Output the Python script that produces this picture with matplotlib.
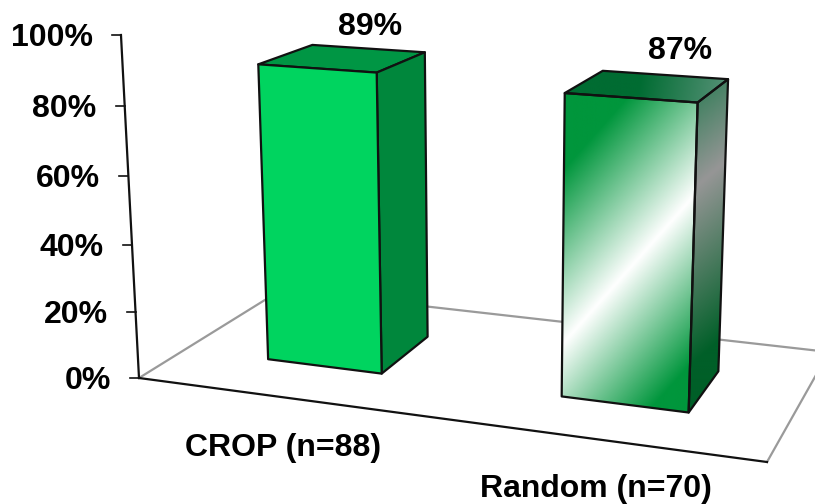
import numpy as np
import matplotlib
matplotlib.use('Agg')
import matplotlib.pyplot as plt
from matplotlib.colors import LinearSegmentedColormap
from matplotlib.patches import Polygon

plt.rcParams['font.family'] = ['Liberation Sans', 'DejaVu Sans']

# Datos
categories = ['CROP (n=88)', 'Random (n=70)']
values = [0.89, 0.87]
value_labels = ['89%', '87%']
y_ticks = [0, 0.2, 0.4, 0.6, 0.8, 1.0]
y_tick_labels = ['0%', '20%', '40%', '60%', '80%', '100%']

# Posicion de las barras en el piso (0-1)
bar_centers = [0.25, 0.75]
bar_width = 0.2
depth_front, depth_back = 0.30, 0.69

# ----------------------------
# Proyeccion 3D -> pixeles
# ----------------------------
FLOOR = [(139, 378), (767, 462), (829, 352), (281, 290)]
AXIS_TOP = (121, 35)
VANISH = (494, 7134)


def floor_matrix(p):
    (x0, y0), (x1, y1), (x2, y2), (x3, y3) = p
    sx, sy = x0 - x1 + x2 - x3, y0 - y1 + y2 - y3
    dx1, dx2, dy1, dy2 = x1 - x2, x3 - x2, y1 - y2, y3 - y2
    den = dx1 * dy2 - dx2 * dy1
    g = (sx * dy2 - dx2 * sy) / den
    h = (dx1 * sy - sx * dy1) / den
    return np.array([[x1 - x0 + g * x1, x3 - x0 + h * x3, x0],
                     [y1 - y0 + g * y1, y3 - y0 + h * y3, y0],
                     [g, h, 1.0]])


H = floor_matrix(FLOOR)
k = (AXIS_TOP[1] - FLOOR[0][1]) / (VANISH[1] - AXIS_TOP[1])


def project(u, d, v):
    p = H @ np.array([u, d, 1.0]) + v * k * np.array([VANISH[0], VANISH[1], 1.0])
    return p[0] / p[2], p[1] / p[2]


# ----------------------------
# Figura
# ----------------------------
fig = plt.figure(figsize=(8.15, 5.04), dpi=100)
ax = fig.add_axes([0, 0, 1, 1])

GREY = '#9a9a9a'
FS = 23

# Piso y eje
corners = [project(0, 0, 0), project(1, 0, 0), project(1, 1, 0), project(0, 1, 0)]
ax.plot(*zip(corners[1], corners[2], corners[3], corners[0]), color=GREY, lw=1.6, zorder=1)
ax.plot(*zip(corners[0], corners[1]), color='#111111', lw=1.6, zorder=1.5)
ax.plot(*zip(project(0, 0, 0), project(0, 0, 1)), color='#111111', lw=1.6, zorder=1.5)

for v, lab in zip(y_ticks, y_tick_labels):
    x, y = project(0, 0, v)
    ax.plot([x - 9, x], [y, y], color='#111111', lw=1.2, zorder=1.5)
    ax.text(x - 28, y + 3, lab, ha='right', va='center', fontsize=FS, fontweight='bold')


def solid_face(pts, color):
    ax.add_patch(Polygon(pts, closed=True, facecolor=color, edgecolor='#111111', lw=1.6,
                         joinstyle='round', zorder=3))


def gradient_face(pts, normal, stops):
    pts = np.array(pts)
    x0, y0 = pts.min(axis=0)
    x1, y1 = pts.max(axis=0)
    xx, yy = np.meshgrid(np.linspace(x0, x1, 300), np.linspace(y0, y1, 300))
    s = pts @ np.array(normal)
    t = (xx * normal[0] + yy * normal[1] - s.min()) / (s.max() - s.min())
    cmap = LinearSegmentedColormap.from_list('face', stops)
    im = ax.imshow(t, extent=(x0, x1, y1, y0), cmap=cmap, vmin=0, vmax=1, aspect='auto',
                   interpolation='bilinear', zorder=2.5)
    patch = Polygon(pts, closed=True, facecolor='none', edgecolor='#111111', lw=1.6,
                    joinstyle='round', zorder=3)
    ax.add_patch(patch)
    im.set_clip_path(patch)


def rgb(r, g, b):
    return (r / 255, g / 255, b / 255)


def bar_faces(center, value):
    left, right = center - bar_width / 2, center + bar_width / 2
    front = [project(left, depth_front, value), project(right, depth_front, value),
             project(right, depth_front, 0), project(left, depth_front, 0)]
    side = [project(right, depth_front, value), project(right, depth_back, value),
            project(right, depth_back, 0), project(right, depth_front, 0)]
    top = [project(left, depth_front, value), project(left, depth_back, value),
           project(right, depth_back, value), project(right, depth_front, value)]
    return front, side, top


# Barra CROP: color solido
front, side, top = bar_faces(bar_centers[0], values[0])
solid_face(top, rgb(0, 150, 68))
solid_face(side, rgb(0, 135, 60))
solid_face(front, rgb(0, 212, 95))

# Barra Random: degradados
front, side, top = bar_faces(bar_centers[1], values[1])
gradient_face(top, (1, 0.2), [(0, rgb(0, 108, 50)), (0.45, rgb(0, 108, 50)), (1, rgb(85, 145, 118))])
gradient_face(side, (60, 70), [(0, rgb(70, 130, 100)), (0.27, rgb(150, 150, 150)),
                               (0.85, rgb(0, 95, 40)), (1, rgb(0, 95, 40))])
gradient_face(front, (143, 127), [(0, rgb(0, 150, 60)), (0.16, rgb(0, 150, 60)), (0.54, (1, 1, 1)),
                                  (0.90, rgb(0, 150, 60)), (1, rgb(0, 150, 60))])

# Etiquetas
label_shift = [(27, -31), (32, -35)]
cat_shift = [51, 49.5]
for c, v, lab, cat, ls, cs in zip(bar_centers, values, value_labels, categories, label_shift, cat_shift):
    x, y = project(c, 0.495, v)
    ax.text(x + ls[0], y + ls[1], lab, ha='center', va='center', fontsize=FS, fontweight='bold')
    x, y = project(c, 0, 0)
    ax.text(x, y + cs, cat, ha='center', va='center', fontsize=FS, fontweight='bold')

ax.set_xlim(0, 815)
ax.set_ylim(504, 0)
ax.axis('off')

fig.savefig('out.png', dpi=100)
